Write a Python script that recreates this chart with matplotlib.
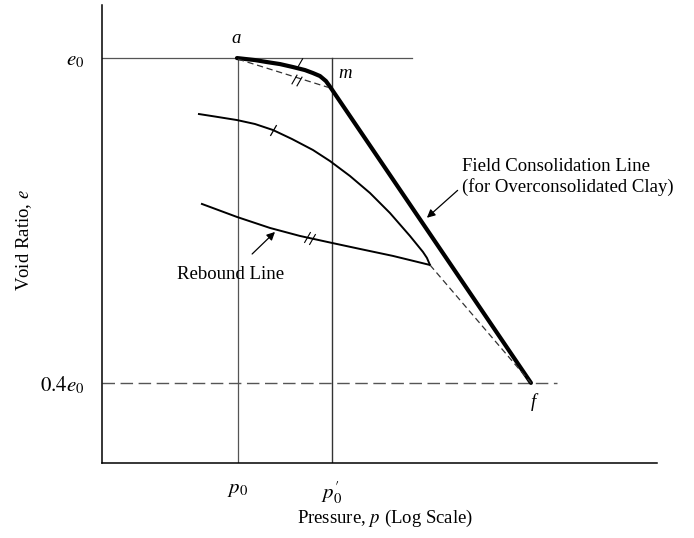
import numpy as np
import matplotlib.pyplot as plt

plt.rcParams['font.family'] = ['Liberation Serif', 'DejaVu Serif']
plt.rcParams['mathtext.fontset'] = 'stix'

# x = log10(p) (arbitrary units), y = e / e0
p0 = 1.0
p0_prime = 1.5
e0 = 1.0
e_low = 0.4

# field consolidation line a -> m -> f
field_x = [0.9947, 1.0904, 1.1543, 1.2234, 1.2926, 1.3564, 1.3989, 1.4362, 1.4681, 1.4947, 2.5585]
field_y = [1.0, 0.9963, 0.9926, 0.9889, 0.9834, 0.9778, 0.9723, 0.9668, 0.9575, 0.9446, 0.400]

# laboratory (disturbed) compression curve
lab_x = [0.7926, 0.8777, 0.9947, 1.0904, 1.1862, 1.2872, 1.3989, 1.4894, 1.5957,
         1.7021, 1.8085, 1.9149, 1.9840, 2.0053, 2.0213]
lab_y = [0.8966, 0.8920, 0.8855, 0.8782, 0.8671, 0.8505, 0.8302, 0.8098, 0.7822,
         0.7508, 0.7138, 0.6714, 0.6419, 0.6308, 0.6178]

# rebound line
reb_x = [0.8085, 0.9947, 1.1702, 1.3298, 1.5, 1.6489, 1.8245, 2.0213]
reb_y = [0.7305, 0.7065, 0.6862, 0.6714, 0.6585, 0.6474, 0.6345, 0.6178]

# dashed guides
chord_x = [1.0, 1.479]
chord_y = [0.998, 0.946]
ext_x = [2.0213, 2.5585]
ext_y = [0.6178, 0.400]

xmin, xmax = 0.277, 3.229
ymin, ymax = 0.252, 1.098

fig = plt.figure(figsize=(6.94, 5.38), dpi=100)
ax = fig.add_axes([0.147, 0.1394, 0.7997, 0.8513])
ax.set_xlim(xmin, xmax)
ax.set_ylim(ymin, ymax)

gray = '#555555'
ax.plot([xmin, 1.926], [e0, e0], color=gray, lw=0.9)
ax.plot([xmin, 2.697], [e_low, e_low], color=gray, lw=1.0, dashes=(9, 4))
ax.plot([p0, p0], [ymin, e0], color=gray, lw=0.9)
ax.plot([p0_prime, p0_prime], [ymin, e0], color='#333333', lw=1.0)

ax.plot(field_x, field_y, color='black', lw=3.0, solid_capstyle='round',
        solid_joinstyle='round')
ax.plot(lab_x, lab_y, color='black', lw=1.4, solid_joinstyle='round')
ax.plot(reb_x, reb_y, color='black', lw=1.4, solid_joinstyle='round')
ax.plot(chord_x, chord_y, color='#333333', lw=0.9, dashes=(5, 3))
ax.plot(ext_x, ext_y, color='#333333', lw=0.9, dashes=(5, 3))

# small slash marks on the curves
ax.plot([1.186], [0.8671], marker=(2, 0, -30), ms=9, mew=0.9, color='black')
ax.plot([1.330], [0.9926], marker=(2, 0, -30), ms=7, mew=0.8, color='black')
ax.plot([1.365, 1.395], [0.6688, 0.6663], ls='none', marker=(2, 0, -30), ms=9, mew=0.8, color='black')
ax.plot([1.300, 1.325], [0.962, 0.958], ls='none', marker=(2, 0, -30), ms=8, mew=0.8, color='black')

fs = 13.5
ax.text(0.989, 1.037, 'a', fontsize=fs, style='italic', ha='center', va='center')
ax.text(1.569, 0.972, 'm', fontsize=fs, style='italic', ha='center', va='center')
ax.text(2.569, 0.365, 'f', fontsize=fs, style='italic', ha='center', va='center')

ax.annotate('Rebound Line', xy=(1.197, 0.6788), xytext=(0.96, 0.5994),
            fontsize=fs, ha='center', va='center',
            arrowprops=dict(arrowstyle='-|>', color='black', lw=0.9,
                            mutation_scale=12, shrinkA=10, shrinkB=0))
ax.annotate('Field Consolidation Line\n(for Overconsolidated Clay)',
            xy=(2.005, 0.705), xytext=(2.191, 0.780),
            fontsize=fs, ha='left', va='center', linespacing=1.2,
            arrowprops=dict(arrowstyle='-|>', color='black', lw=0.9,
                            mutation_scale=12, shrinkA=0, shrinkB=0,
                            relpos=(-0.02, 0.15)))

ax.set_xticks([p0, p0_prime])
ax.set_xticklabels([r'$p_0$', r"$p_0^{\prime}$"], fontsize=15)
ax.set_yticks([e_low, e0])
ax.set_yticklabels([r'$0.4e_0$', r'$e_0$'], fontsize=15)
ax.tick_params(length=0, pad=12)
ax.tick_params(axis='y', pad=13)

ax.set_xlabel(r'Pressure, $p$ (Log Scale)', fontsize=fs)
ax.set_ylabel(r'Void Ratio, $e$', fontsize=fs)
ax.xaxis.set_label_coords(0.51, -0.098)
ax.yaxis.set_label_coords(-0.122, 0.487)

for s in ['top', 'right']:
    ax.spines[s].set_visible(False)
ax.spines['left'].set_linewidth(1.1)
ax.spines['bottom'].set_linewidth(1.1)

fig.savefig('out.png', dpi=100)
